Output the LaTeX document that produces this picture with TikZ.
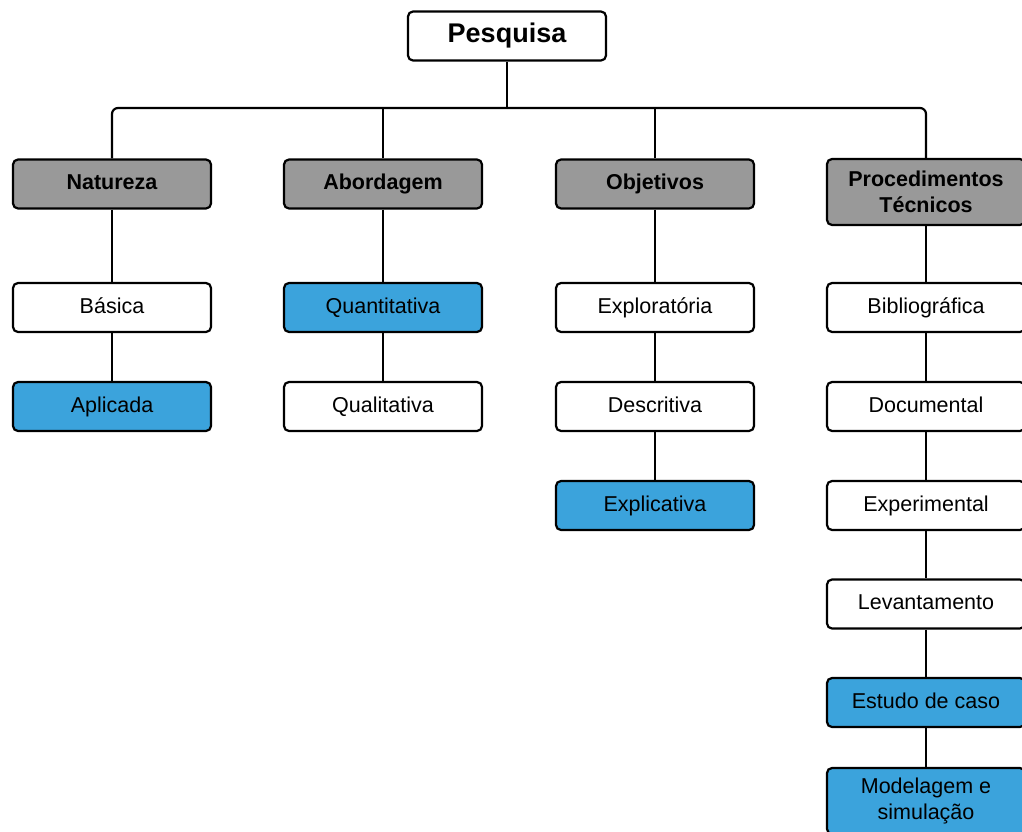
\documentclass[tikz,border=0pt]{standalone}
\usepackage{fontspec}
\setmainfont{Liberation Sans}
\definecolor{boxgray}{RGB}{153,153,153}
\definecolor{boxblue}{RGB}{59,163,220}
\tikzset{
  base/.style={draw=black, line width=2.2pt, rounded corners=5pt, minimum width=198pt, minimum height=49pt, inner sep=2pt, align=center, font=\fontsize{21.5}{26.5}\selectfont},
  oneline/.style={text height=15.5pt, text depth=4.5pt},
  plain/.style={base, oneline, fill=white},
  hl/.style={base, oneline, fill=boxblue},
  cat/.style={base, oneline, fill=boxgray, font=\fontsize{21.5}{26.5}\selectfont\bfseries},
  root/.style={base, fill=white, text height=19.5pt, text depth=5.5pt, font=\fontsize{27}{32}\selectfont\bfseries},
  link/.style={line width=2.2pt, black},
}
\begin{document}
\begin{tikzpicture}[x=1pt,y=-1pt]
\useasboundingbox (0,0) rectangle (1022,832);
\node[root] (P) at (507,36) {Pesquisa};
\coordinate (bus) at (507,108);
% categories
\node[cat] (N) at (112,184) {Natureza};
\node[cat] (A) at (383,184) {Abordagem};
\node[cat] (O) at (655,184) {Objetivos};
\node[base, fill=boxgray, font=\fontsize{21.5}{26.5}\selectfont\bfseries, minimum height=66pt] (T) at (926,192) {Procedimentos\\Técnicos};
% Natureza
\node[plain] (N1) at (112,307.5) {Básica};
\node[hl] (N2) at (112,406.5) {Aplicada};
% Abordagem
\node[hl] (A1) at (383,307.5) {Quantitativa};
\node[plain] (A2) at (383,406.5) {Qualitativa};
% Objetivos
\node[plain] (O1) at (655,307.5) {Exploratória};
\node[plain] (O2) at (655,406.5) {Descritiva};
\node[hl] (O3) at (655,505.5) {Explicativa};
% Procedimentos
\node[plain] (T1) at (926,307.5) {Bibliográfica};
\node[plain] (T2) at (926,406.5) {Documental};
\node[plain] (T3) at (926,505.5) {Experimental};
\node[plain] (T4) at (926,604) {Levantamento};
\node[hl] (T5) at (926,702.5) {Estudo de caso};
\node[base, fill=boxblue, minimum height=66pt] (T6) at (926,801) {Modelagem e\\simulação};
% connectors
\draw[link] (P.south) -- (bus);
\draw[link, rounded corners=6pt] (N.north) |- (bus);
\draw[link, rounded corners=6pt] (T.north) |- (bus);
\draw[link] (A.north) -- (A.north |- bus);
\draw[link] (O.north) -- (O.north |- bus);
\draw[link] (N.south) -- (N1.north);
\draw[link] (N1.south) -- (N2.north);
\draw[link] (A.south) -- (A1.north);
\draw[link] (A1.south) -- (A2.north);
\draw[link] (O.south) -- (O1.north);
\draw[link] (O1.south) -- (O2.north);
\draw[link] (O2.south) -- (O3.north);
\draw[link] (T.south) -- (T1.north);
\draw[link] (T1.south) -- (T2.north);
\draw[link] (T2.south) -- (T3.north);
\draw[link] (T3.south) -- (T4.north);
\draw[link] (T4.south) -- (T5.north);
\draw[link] (T5.south) -- (T6.north);
\end{tikzpicture}
\end{document}
